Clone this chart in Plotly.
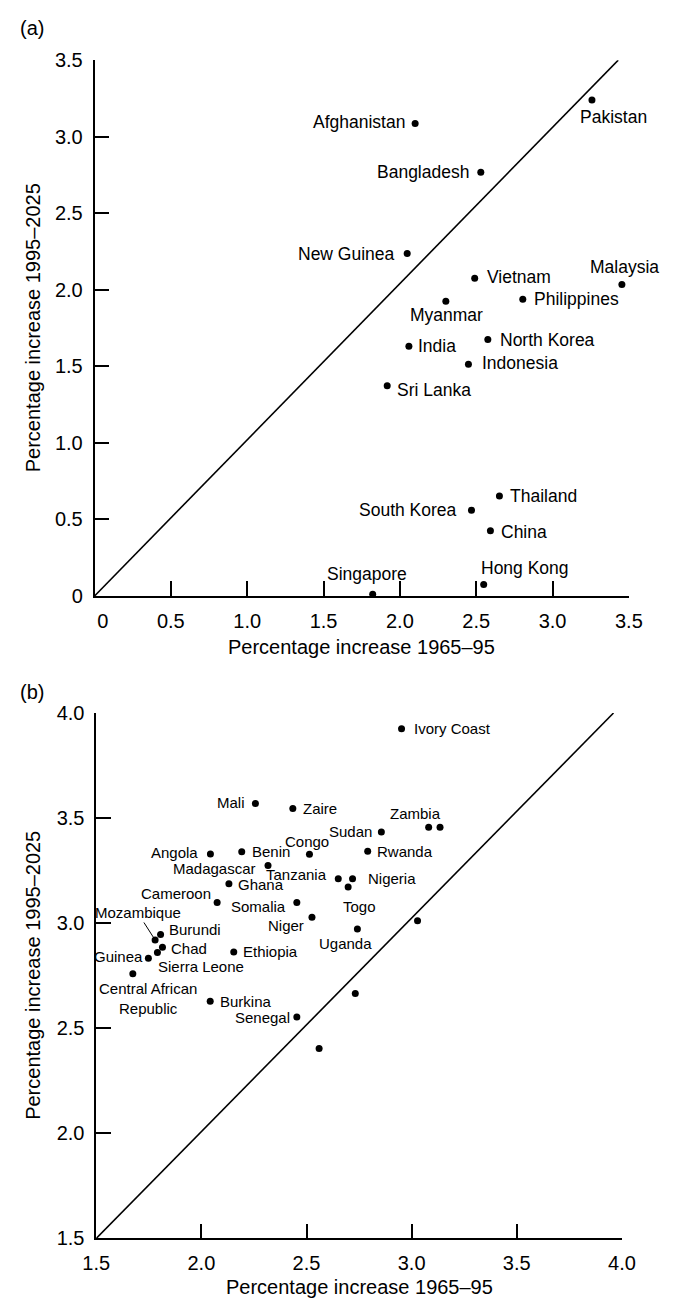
import plotly.graph_objects as go

W, H = 673, 1312
FONT = "Liberation Sans, Arial, Helvetica, sans-serif"

# ---------------- data: panel (a) ----------------
asia_names = ["Afghanistan", "Pakistan", "Bangladesh", "New Guinea", "Vietnam",
              "Malaysia", "Philippines", "Myanmar", "India", "North Korea",
              "Indonesia", "Sri Lanka", "Thailand", "South Korea", "China",
              "Hong Kong", "Singapore"]
asia_x = [2.100, 3.258, 2.530, 2.048, 2.490, 3.454, 2.805, 2.301, 2.059, 2.576,
          2.449, 1.917, 2.652, 2.469, 2.593, 2.549, 1.822]
asia_y = [3.087, 3.239, 2.768, 2.237, 2.076, 2.034, 1.938, 1.925, 1.631, 1.676,
          1.514, 1.374, 0.653, 0.561, 0.426, 0.075, 0.011]
asia_diag_x = [0.0, 3.43]
asia_diag_y = [0.0, 3.5]

# ---------------- data: panel (b) ----------------
africa_names = ["Ivory Coast", "Mali", "Zaire", "Zambia", "", "Sudan", "Angola",
                "Benin", "Congo", "Rwanda", "Madagascar", "Tanzania", "Nigeria",
                "Togo", "Ghana", "Cameroon", "Somalia", "Niger", "Uganda", "",
                "Mozambique", "Burundi", "Chad", "Sierra Leone", "Guinea",
                "Ethiopia", "Central African<br>Republic", "Burkina", "Senegal",
                "", ""]
africa_x = [2.952, 2.257, 2.435, 3.081, 3.135, 2.856, 2.043, 2.192, 2.514, 2.791,
            2.317, 2.651, 2.719, 2.698, 2.131, 2.075, 2.454, 2.526, 2.742, 3.028,
            1.780, 1.806, 1.815, 1.791, 1.748, 2.154, 1.674, 2.042, 2.454, 2.732,
            2.560]
africa_y = [3.925, 3.570, 3.546, 3.456, 3.456, 3.434, 3.329, 3.340, 3.328, 3.342,
            3.275, 3.211, 3.211, 3.172, 3.187, 3.098, 3.098, 3.028, 2.972, 3.011,
            2.920, 2.946, 2.885, 2.861, 2.833, 2.863, 2.759, 2.628, 2.553, 2.665,
            2.404]
africa_diag_x = [1.5, 3.96]
africa_diag_y = [1.5, 4.0]

a_tickvals = [0, 0.5, 1.0, 1.5, 2.0, 2.5, 3.0, 3.5]
a_xticktext = ["\u00a0\u00a0\u00a00", "0.5", "1.0", "1.5", "2.0", "2.5", "3.0", "3.5"]
a_yticktext = ["0", "0.5", "1.0", "1.5", "2.0", "2.5", "3.0", "3.5"]
b_tickvals = [1.5, 2.0, 2.5, 3.0, 3.5, 4.0]
b_ticktext = ["1.5", "2.0", "2.5", "3.0", "3.5", "4.0"]

x_title = "Percentage increase 1965\u201395"
y_title = "Percentage increase 1995\u20132025"

# ---------------- label placement (anchor, dx px, dy px; dy down) ----------------
asia_place = {
    "Afghanistan": ("right", -8, -1), "Pakistan": ("left", -14, 16.5),
    "Bangladesh": ("right", -10, 0), "New Guinea": ("right", -10, 0),
    "Vietnam": ("left", 10, -1), "Malaysia": ("center", 3, -18),
    "Philippines": ("left", 9, 0), "Myanmar": ("center", 1, 13.5),
    "India": ("left", 7.5, 0), "North Korea": ("left", 10.5, 1),
    "Indonesia": ("left", 12, -1), "Sri Lanka": ("left", 7.5, 4),
    "Thailand": ("left", 8.5, -0.5), "South Korea": ("right", -12.5, 0),
    "China": ("left", 9, 1.5), "Hong Kong": ("left", -4.3, -16.6),
    "Singapore": ("center", -5.5, -20),
}
africa_place = {
    "Ivory Coast": ("left", 10, 0), "Mali": ("right", -8.5, -0.5),
    "Zaire": ("left", 8.5, 0), "Zambia": ("center", -13.5, -14),
    "Sudan": ("right", -7.5, 0), "Angola": ("right", -10, -2),
    "Benin": ("left", 8, 0), "Congo": ("center", -2.5, -12.7),
    "Rwanda": ("left", 7.5, 0), "Madagascar": ("right", -10.5, 3),
    "Tanzania": ("right", -9, -4), "Nigeria": ("left", 13, 0),
    "Togo": ("center", 11.3, 19.5), "Ghana": ("left", 7, 1),
    "Cameroon": ("right", -4.5, -9), "Somalia": ("right", -9, 4),
    "Niger": ("right", -6, 8.3), "Uganda": ("center", -12, 14),
    "Burundi": ("left", 6, -5.5), "Chad": ("left", 6.5, 1.4),
    "Sierra Leone": ("left", -1.4, 14), "Guinea": ("right", -3.6, -2),
    "Ethiopia": ("left", 7.4, 0), "Central African<br>Republic": ("center", 15, 25),
    "Burkina": ("left", 7.5, 0), "Senegal": ("right", -5, 0),
}
mozambique_offset = (-17.6, -27.5)

# ---------------- geometry (pixels) ----------------
A_X0, A_X1, A_YT, A_YB = 84.0, 641.6, 50.0, 595.0
B_X0, B_X1, B_YT, B_YB = 85.8, 634.3, 714.0, 1248.3

def fx(px):
    return px / W

def fy(py):
    return 1 - py / H

fig = go.Figure()

fig.add_trace(go.Scatter(x=asia_diag_x, y=asia_diag_y, mode="lines",
                         line=dict(color="black", width=1.6), xaxis="x", yaxis="y",
                         hoverinfo="skip", cliponaxis=False))
fig.add_trace(go.Scatter(x=asia_x, y=asia_y, mode="markers", text=asia_names,
                         marker=dict(color="black", size=7), xaxis="x", yaxis="y",
                         cliponaxis=False))
fig.add_trace(go.Scatter(x=africa_diag_x, y=africa_diag_y, mode="lines",
                         line=dict(color="black", width=1.6), xaxis="x2", yaxis="y2",
                         hoverinfo="skip", cliponaxis=False))
fig.add_trace(go.Scatter(x=africa_x, y=africa_y, mode="markers", text=africa_names,
                         marker=dict(color="black", size=7), xaxis="x2", yaxis="y2",
                         cliponaxis=False))

annotations = []
for n, x, y in zip(asia_names, asia_x, asia_y):
    anc, dx, dy = asia_place[n]
    annotations.append(dict(x=x, y=y, xref="x", yref="y", text=n, showarrow=False,
                            xanchor=anc, yanchor="middle", xshift=dx, yshift=-dy,
                            font=dict(size=17.5, family=FONT, color="black")))
for n, x, y in zip(africa_names, africa_x, africa_y):
    if not n:
        continue
    if n == "Mozambique":
        annotations.append(dict(x=x, y=y, xref="x2", yref="y2", text=n, showarrow=True,
                                arrowhead=0, arrowwidth=1, arrowcolor="black", standoff=3,
                                ax=mozambique_offset[0], ay=mozambique_offset[1],
                                font=dict(size=15, family=FONT, color="black")))
        continue
    anc, dx, dy = africa_place[n]
    annotations.append(dict(x=x, y=y, xref="x2", yref="y2", text=n, showarrow=False,
                            xanchor=anc, yanchor="middle", xshift=dx, yshift=-dy,
                            align="center",
                            font=dict(size=15, family=FONT, color="black")))

def paper_text(text, px, py, size=20, angle=0):
    return dict(x=fx(px), y=fy(py), xref="paper", yref="paper", text=text,
                showarrow=False, xanchor="center", yanchor="middle", textangle=angle,
                font=dict(size=size, family=FONT, color="black"))

annotations += [
    paper_text("(a)", 18.5, 17.5),
    paper_text("(b)", 18.5, 693),
    paper_text(x_title, (A_X0 + A_X1) / 2, 647),
    paper_text(x_title, (B_X0 + B_X1) / 2, 1298),
    paper_text(y_title, 20, (A_YT + A_YB) / 2, angle=-90),
    paper_text(y_title, 20, (B_YT + B_YB) / 2, angle=-90),
]

axis_common = dict(showline=True, linecolor="black", linewidth=1.5, ticks="inside",
                   ticklen=15, tickwidth=1.5, tickcolor="black", showgrid=False,
                   zeroline=False, fixedrange=True,
                   tickfont=dict(size=20, family=FONT, color="black"))

fig.update_layout(
    width=W, height=H, autosize=False,
    margin=dict(l=0, r=0, t=0, b=0, pad=0),
    paper_bgcolor="white", plot_bgcolor="white",
    showlegend=False,
    xaxis=dict(domain=[fx(A_X0), fx(A_X1)], range=[0, 3.5], anchor="y",
               tickmode="array", tickvals=a_tickvals, ticktext=a_xticktext,
               ticklabelstandoff=6, **axis_common),
    yaxis=dict(domain=[fy(A_YB), fy(A_YT)], range=[0, 3.5], anchor="x",
               tickmode="array", tickvals=a_tickvals, ticktext=a_yticktext,
               ticklabelstandoff=6, **axis_common),
    xaxis2=dict(domain=[fx(B_X0), fx(B_X1)], range=[1.5, 4.0], anchor="y2",
                tickmode="array", tickvals=b_tickvals, ticktext=b_ticktext,
                ticklabelstandoff=6, **axis_common),
    yaxis2=dict(domain=[fy(B_YB), fy(B_YT)], range=[1.5, 4.0], anchor="x2",
                tickmode="array", tickvals=b_tickvals, ticktext=b_ticktext,
                ticklabelstandoff=6, **axis_common),
    annotations=annotations,
)

fig.write_html(
    "out.html",
    config={"responsive": False, "displayModeBar": False},
    post_script="document.body.style.margin='0px';document.body.style.overflow='hidden';",
)
